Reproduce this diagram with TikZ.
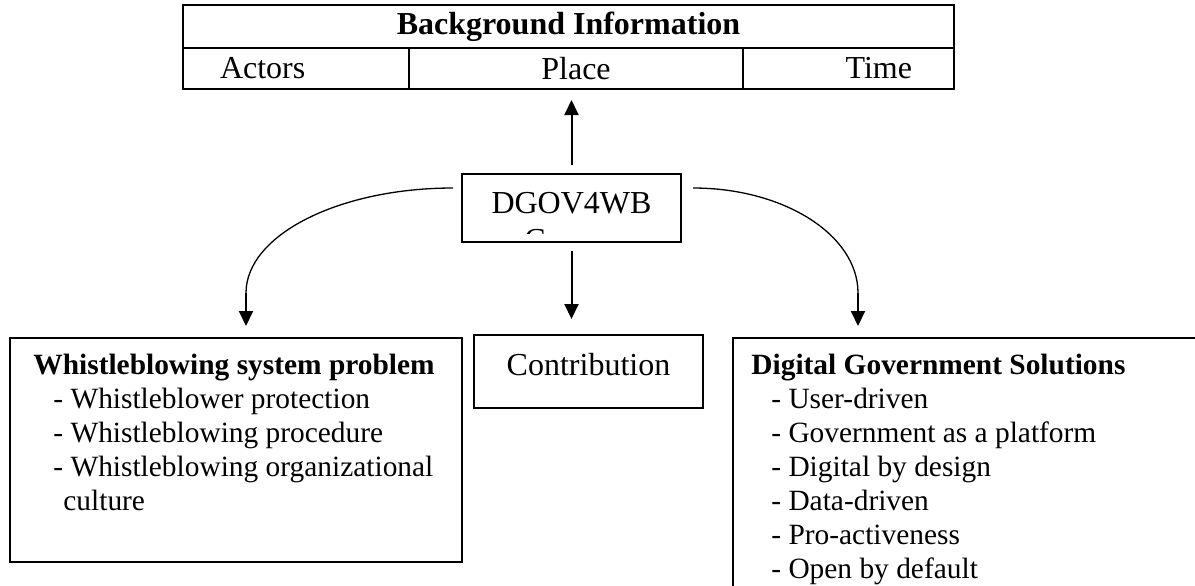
\documentclass[tikz,border=0pt]{standalone}
\usepackage{fontspec}
\setmainfont{Liberation Serif}
\usetikzlibrary{arrows.meta,positioning}

\tikzset{
  cell/.style={draw, line width=0.65pt, inner sep=0pt, outer sep=0pt, anchor=north west,
    minimum height=20.5pt, font=\fontsize{16}{18}\selectfont},
  box/.style={draw, line width=0.65pt, inner sep=0pt, outer sep=0pt, anchor=north west},
  listtext/.style={anchor=north west, align=left, inner sep=0pt,
    font=\fontsize{14.7}{17}\selectfont},
  link/.style={line width=1pt, -{Triangle[length=7.5pt,width=7pt]}},
  curveline/.style={line width=0.65pt},
}

\begin{document}
\begin{tikzpicture}[x=0.5pt, y=-0.5pt]
      \useasboundingbox (0,0) rectangle (1195,585);
      \clip (0,0) rectangle (1195,585);
      % background table
      \node[cell, minimum width=385.5pt, minimum height=21.5pt, font=\fontsize{16}{18}\selectfont\bfseries] (bginfo) at (183,5) {Background Information};
      \node[cell, text width=76pt, inner xsep=18.5pt, align=left] (actors) at (bginfo.south west) {Actors};
      \node[cell, minimum width=167pt] (place) at (actors.north east) {Place};
      \node[cell, text width=63.5pt, inner xsep=21pt, align=right] (time) at (place.north east) {Time};
      % centre box
      \node[box, minimum width=109.5pt, minimum height=34pt, font=\fontsize{16}{18}\selectfont, text height=11pt, text depth=6pt] (dgov) at (462,174) {DGOV4WB};
      \begin{scope}
        \clip (462,174) rectangle (681,233);
        \node[anchor=base, inner sep=0pt, font=\fontsize{16}{18}\selectfont] (dgovmore) at (571.5,250) {Canvas};
      \end{scope}
      % lower boxes
      \node[box, minimum width=226pt, minimum height=112pt] (problem) at (10,338) {};
      \node[listtext] (problemtext) at ([xshift=11.5pt, yshift=-8pt]problem.north west) {\textbf{Whistleblowing system problem}\\
        \hspace*{10pt}- Whistleblower protection\\
        \hspace*{10pt}- Whistleblowing procedure\\
        \hspace*{10pt}- Whistleblowing organizational\\
        \hspace*{15pt}culture};
      \node[box, minimum width=114.5pt, minimum height=36.5pt, font=\fontsize{16}{18}\selectfont, text height=11pt, text depth=7.5pt] (contrib) at (474,335) {Contribution};
      \node[box, minimum width=240pt, minimum height=150pt] (solutions) at (733,338) {};
      \node[listtext] (solutionstext) at ([xshift=9pt, yshift=-8pt]solutions.north west) {\textbf{Digital Government Solutions}\\
        \hspace*{10pt}- User-driven\\
        \hspace*{10pt}- Government as a platform\\
        \hspace*{10pt}- Digital by design\\
        \hspace*{10pt}- Data-driven\\
        \hspace*{10pt}- Pro-activeness\\
        \hspace*{10pt}- Open by default};
      % connectors
      \coordinate (dgovleft) at ([xshift=-4.5pt, yshift=10pt]dgov.west);
      \coordinate (dgovright) at ([xshift=6pt, yshift=10pt]dgov.east);
      \coordinate (leftdrop) at (246,293);
      \coordinate (rightdrop) at (858,293);
      \draw[link, shorten <=4.5pt, shorten >=5.5pt] (dgov.north) -- (dgov.north |- place.south);
      \draw[link, shorten <=4.5pt, shorten >=8pt] (dgov.south) -- (dgov.south |- contrib.north);
      \draw[curveline] (dgovleft) .. controls +(-114,0) and +(0,-58) .. (leftdrop);
      \draw[curveline] (dgovright) .. controls +(91,0) and +(0,-58) .. (rightdrop);
      \draw[link, shorten >=6pt] (leftdrop) -- (leftdrop |- problem.north);
      \draw[link, shorten >=6pt] (rightdrop) -- (rightdrop |- solutions.north);
    \end{tikzpicture}
\end{document}
